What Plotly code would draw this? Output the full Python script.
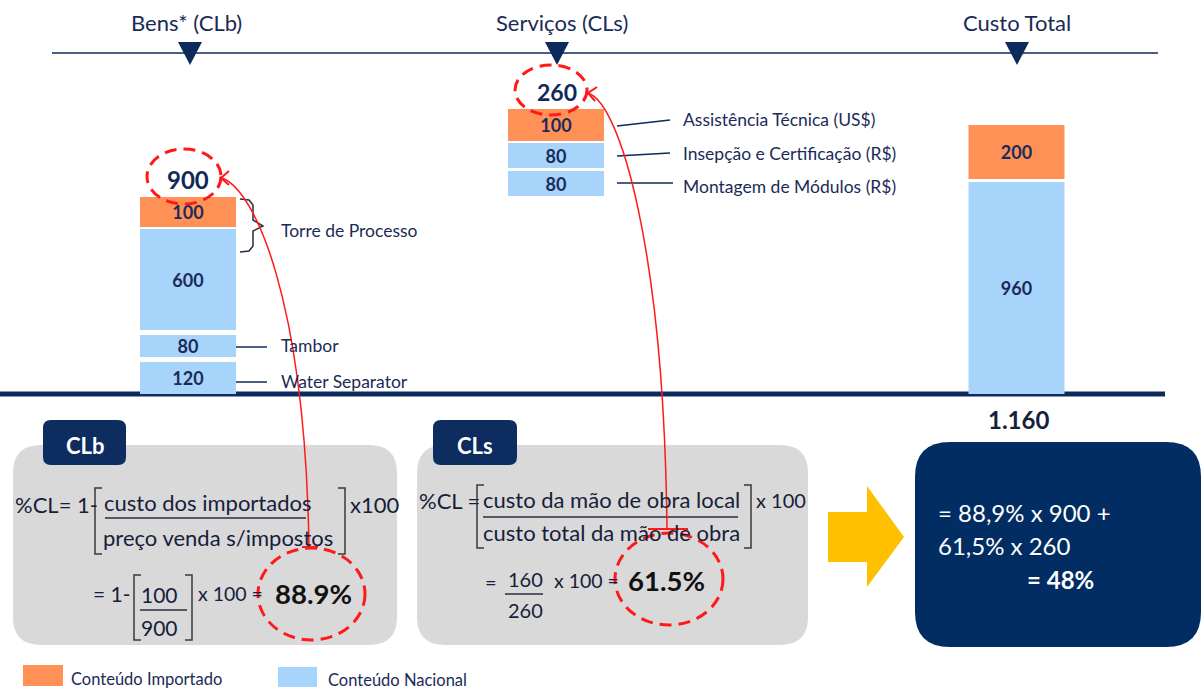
import plotly.graph_objects as go

# ---------------- data ----------------
group_names = ["Bens* (CLb)", "Serviços (CLs)", "Custo Total"]
group_totals = ["900", "260", "1.160"]

bens_items = ["Water Separator", "Tambor", "Torre de Processo (nacional)", "Torre de Processo (importado)"]
bens_values = [120, 80, 600, 100]
bens_kind = ["Nacional", "Nacional", "Nacional", "Importado"]

serv_items = ["Montagem de Módulos (R$)", "Insepção e Certificação (R$)", "Assistência Técnica (US$)"]
serv_values = [80, 80, 100]
serv_kind = ["Nacional", "Nacional", "Importado"]

total_values = [960, 200]
total_kind = ["Nacional", "Importado"]

legend_labels = ["Conteúdo Importado", "Conteúdo Nacional"]

# ---------------- layout constants (pixel canvas) ----------------
W, H = 1204, 691
FONT = "Lato"
NAVY = "#0c2a5b"
TXT = "#1b2b57"
DARK = "#17203a"
RED = "#ff1a1a"
COLORS = {"Importado": "#ff9157", "Nacional": "#a7d4fb"}
BAR_W = 96
group_x = [188, 556, 1016.5]
# display extents (top, bottom) of each segment, stylised infographic
bens_px = [(362, 394), (335, 357), (229, 330), (197, 227)]
serv_px = [(171, 196), (143, 168), (109, 141)]
total_px = [(182, 394), (125, 179)]

fig = go.Figure()

# ---------------- bars ----------------
segs = []
for gx, vals, kinds, px in [(group_x[0], bens_values, bens_kind, bens_px),
                            (group_x[1], serv_values, serv_kind, serv_px),
                            (group_x[2], total_values, total_kind, total_px)]:
    for v, k, (t, b) in zip(vals, kinds, px):
        segs.append((gx, v, k, t, b))

for kind in ["Importado", "Nacional"]:
    ss = [s for s in segs if s[2] == kind]
    fig.add_trace(go.Bar(
        x=[s[0] for s in ss],
        base=[s[3] for s in ss],
        y=[s[4] - s[3] for s in ss],
        width=[BAR_W] * len(ss),
        text=[str(s[1]) for s in ss],
        textposition="inside",
        insidetextanchor="middle",
        textangle=0,
        textfont=dict(family=FONT, size=18, color=TXT, weight="bold"),
        marker=dict(color=COLORS[kind], line=dict(width=0)),
        showlegend=False,
        hoverinfo="skip",
        cliponaxis=False,
    ))

shapes = []
ann = []


def line(x0, y0, x1, y1, color=NAVY, width=1.5, layer="above"):
    shapes.append(dict(type="line", x0=x0, y0=y0, x1=x1, y1=y1, xref="x", yref="y",
                       line=dict(color=color, width=width), layer=layer))


def path(d, color=NAVY, width=1.5, fill=None, layer="above"):
    s = dict(type="path", path=d, xref="x", yref="y", line=dict(color=color, width=width), layer=layer)
    if fill:
        s["fillcolor"] = fill
    shapes.append(s)


def rrect(x0, y0, x1, y1, r, fill, layer="below"):
    d = (f"M {x0+r},{y0} L {x1-r},{y0} Q {x1},{y0} {x1},{y0+r} L {x1},{y1-r} "
         f"Q {x1},{y1} {x1-r},{y1} L {x0+r},{y1} Q {x0},{y1} {x0},{y1-r} "
         f"L {x0},{y0+r} Q {x0},{y0} {x0+r},{y0} Z")
    shapes.append(dict(type="path", path=d, xref="x", yref="y", fillcolor=fill,
                       line=dict(width=0), layer=layer))


def text(x, y, s, size=18, color=TXT, anchor="left", bold=False):
    ann.append(dict(x=x, y=y, xref="x", yref="y", text=s, showarrow=False,
                    xanchor=anchor, yanchor="middle", borderpad=0,
                    font=dict(family=FONT, size=size, color=color, weight="bold" if bold else "normal")))


def bracket(x, y0, y1, arm, color="#3a3a3a"):
    path(f"M {x+arm},{y0} L {x},{y0} L {x},{y1} L {x+arm},{y1}", color=color, width=1.5)


def ellipse(x0, y0, x1, y1):
    shapes.append(dict(type="circle", x0=x0, y0=y0, x1=x1, y1=y1, xref="x", yref="y",
                       line=dict(color=RED, width=3, dash="12px,7px"), layer="above"))

# top rule and headers
line(52, 53, 1158, 53, width=1.5)
for gx in [190, 557, 1017]:
    path(f"M {gx-12},42 L {gx+12},42 L {gx},65 Z", color=NAVY, width=0, fill=NAVY)
text(186, 22, group_names[0], size=22, anchor="center")
text(562, 22, group_names[1], size=22, anchor="center")
text(1017, 22, group_names[2], size=22, anchor="center")

# baseline
line(0, 394, 1165, 394, color=NAVY, width=5, layer="below")

# totals
text(188, 179, group_totals[0], size=24, color="#10295a", anchor="center", bold=True)
text(557, 92, group_totals[1], size=23, color="#10295a", anchor="center", bold=True)
text(1018, 419, group_totals[2], size=24, color=DARK, anchor="center", bold=True)

# bens labels
path("M 240,199 L 249,200 L 253,205 L 253,220 L 263,226 L 253,231 L 253,246 L 249,251 L 240,252",
     color="#2b2b40", width=1.5)
text(280, 230, "Torre de Processo", size=17.5)
line(236, 347, 267, 347)
text(280, 345, bens_items[1], size=17.5)
line(236, 382, 267, 382)
text(280, 381, bens_items[0], size=17.5)

# services labels
line(617, 126, 670, 120)
text(682, 119, serv_items[2], size=17.5)
line(617, 156, 670, 153)
text(682, 153, serv_items[1], size=17.5)
line(617, 183, 673, 183)
text(682, 186, serv_items[0], size=17.5)

# boxes
rrect(13, 445, 397, 645, 28, "#d9d9d9")
rrect(417, 445, 808, 645, 28, "#d9d9d9")
rrect(43, 420, 126, 465, 8, "#0d2d60", layer="above")
rrect(433, 420, 517, 465, 8, "#0d2d60", layer="above")
text(85, 445, "CLb", size=22, color="white", anchor="center", bold=True)
text(475, 445, "CLs", size=22, color="white", anchor="center", bold=True)
rrect(915, 442, 1201, 647, 35, "#012d63")

# CLb formula
text(14, 504, "%CL= 1-", size=22, color=DARK)
bracket(95, 488, 554, 7)
text(103, 502, "custo dos importados", size=22, color=DARK)
line(105, 518, 306, 518, color="#2b2b40", width=1.5)
text(102, 537, "preço venda s/impostos", size=22, color=DARK)
bracket(345, 488, 554, -7)
text(349, 504, "x100", size=22, color=DARK)
text(92, 593, "= 1-", size=21, color=DARK)
bracket(134, 575, 640, 7)
text(159, 594, "100", size=21, color=DARK, anchor="center")
line(140, 610, 187, 610, color="#2b2b40", width=1.5)
text(159, 627, "900", size=21, color=DARK, anchor="center")
bracket(192, 575, 640, -7)
text(197, 593, "x 100 =", size=19.5, color=DARK)
text(274, 593, "88.9%", size=27.5, color="#111111", bold=True)

# CLs formula
text(418, 500, "%CL =", size=22, color=DARK)
bracket(477, 485, 548, 7)
text(482, 499, "custo da mão de obra local", size=22, color=DARK)
line(483, 517, 738, 517, color="#2b2b40", width=1.5)
text(482, 532, "custo total da mão de obra", size=22, color=DARK)
bracket(751, 485, 548, -7)
text(755, 500, "x 100", size=20, color=DARK)
text(484, 582, "=", size=20, color=DARK)
text(525, 579, "160", size=20, color=DARK, anchor="center")
line(505, 594, 543, 594, color="#2b2b40", width=1.5)
text(525, 610, "260", size=20, color=DARK, anchor="center")
text(553, 580, "x 100 =", size=19.5, color=DARK)
text(627, 580, "61.5%", size=27.5, color="#111111", bold=True)

# yellow arrow
path("M 828,512 L 867,512 L 867,486 L 904,537 L 867,587 L 867,562 L 828,562 Z",
     color="#ffc000", width=0, fill="#ffc000")

# result box text
text(937, 512, "= 88,9% x 900 +", size=24, color="white")
text(937, 545, "61,5% x 260", size=24, color="white")
text(1026, 579, "= 48%", size=24, color="white", bold=True)

# red highlights
ellipse(147, 149, 221, 204)
ellipse(515, 65, 587, 115)
ellipse(258, 548, 365, 640)
ellipse(615, 533, 723, 625)
path("M 222,178 C 255,190 305,300 309,547", color=RED, width=1.5)
path("M 302,547 L 318,547", color=RED, width=2)
path("M 229,171 L 221,178 L 229,185", color=RED, width=2)
path("M 588,93 C 620,103 664,250 667,529", color=RED, width=1.5)
path("M 648,529 L 688,529", color=RED, width=2)
path("M 597,87 L 588,93 L 595,101", color=RED, width=2)

# legend
shapes.append(dict(type="rect", x0=23, y0=665, x1=63, y1=686, xref="x", yref="y",
                   fillcolor=COLORS["Importado"], line=dict(width=0)))
text(70, 679, legend_labels[0], size=16.5)
shapes.append(dict(type="rect", x0=278, y0=667, x1=317, y1=687, xref="x", yref="y",
                   fillcolor=COLORS["Nacional"], line=dict(width=0)))
text(327, 680, legend_labels[1], size=16.5)

fig.update_layout(
    width=W, height=H,
    margin=dict(l=0, r=0, t=0, b=0),
    paper_bgcolor="white", plot_bgcolor="white",
    xaxis=dict(range=[0, W], visible=False, fixedrange=True),
    yaxis=dict(range=[H, 0], visible=False, fixedrange=True),
    shapes=shapes, annotations=ann,
    barmode="overlay",
    uniformtext=dict(minsize=18, mode="show"),
    hovermode=False,
    showlegend=False,
)

fig.write_html("out.html", config={"displayModeBar": False},
               post_script="document.body.style.margin='0';document.body.style.overflow='hidden';")
